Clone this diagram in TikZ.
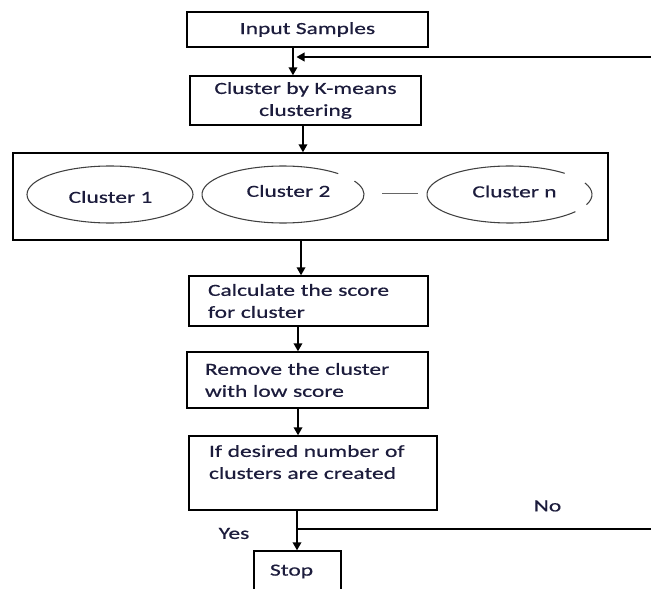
\documentclass[tikz,border=0pt]{standalone}
\usepackage{fontspec}
\setmainfont{Carlito}[FakeStretch=1.38, FakeBold=0.6]
\usetikzlibrary{positioning,arrows.meta}
\definecolor{inkblue}{RGB}{28,28,60}
\tikzset{
	flowbox/.style = {draw, line width=1.1pt, inner sep=0pt, text=inkblue,
	 font=\fontsize{12.75}{16.5}\selectfont},
	leftbox/.style = {flowbox, align=left, inner ysep=2pt},
	lbl/.style = {text=inkblue, font=\fontsize{12.75}{16.5}\selectfont},
	arr/.style = {-{Triangle[length=6pt,width=6.5pt]}, line width=1.1pt},
	ring/.style = {line width=0.8pt, draw=black!75}}

\begin{document}
\begin{tikzpicture}[x=0.75pt, y=0.75pt]
\clip (0,0) rectangle (651,-589);

% NODES
% top of the loop
\node (input) [flowbox, minimum width=180.75pt, minimum height=26.25pt] at (307.5,-29.5) {Input Samples};
\node (kmeans) [flowbox, align=center, minimum width=173.25pt, minimum height=36.75pt] at (305.5,-100.5) {Cluster by K-means\\clustering};
% clusters
\node (big) [flowbox, minimum width=446.25pt, minimum height=65.25pt] at (310.5,-196.5) {};
\node (c1) [lbl] at (110.5,-197) {Cluster 1};
\node (c2) [lbl] at (288.5,-191) {Cluster 2};
\node (cn) [lbl] at (514.5,-191.5) {Cluster n};
\draw [ring] ([shift={(-0.5,2.5)}]c1.center) ellipse [x radius=83, y radius=28.5];
\draw [ring] ([shift={(-5.5,-3.5)}]c2.center) ++(47:81 and 28.5) arc [start angle=47, end angle=388, x radius=81, y radius=28.5];
\draw [ring] ([shift={(-5,-3)}]cn.center) ++(48:82.5 and 28.5) arc [start angle=48, end angle=323, x radius=82.5, y radius=28.5];
\draw [ring] ([shift={(-5,-3)}]cn.center) ++(-21:82.5 and 28.5) arc [start angle=-21, end angle=24, x radius=82.5, y radius=28.5];
\draw [ring, draw=black!60, line width=0.6pt] (382,-193.5) -- (418,-193.5);
% scoring
\node (calc) [leftbox, inner xsep=14.25pt, text width=150.75pt, minimum height=37.5pt] at (308.5,-301) {Calculate the score\\for cluster};
\node (remove) [leftbox, inner xsep=13.5pt, text width=153.75pt, minimum height=42pt] at (307.5,-380) {Remove the cluster\\with low score};
\node (test) [leftbox, inner xsep=15pt, text width=156pt, minimum height=55.5pt] at (313,-473) {If desired number of\\clusters are created\\\mbox{}};
\node (stop) [leftbox, inner xsep=12pt, text width=41.25pt, minimum height=30.75pt] at (297.5,-571.5) {Stop};
\node (yes) [lbl] at (234,-533.5) {Yes};
\node (no) [lbl] at (547.5,-506) {No};
\coordinate (fbin) at (651,-57);
\coordinate (noend) at (651,-529);

%CONNECTIONS
\draw [arr] ([xshift=-10.9pt]input.south) -- ([xshift=-10.9pt]input.south |- kmeans.north);
\draw [arr] (fbin) -- ([xshift=-8.25pt]input.south |- fbin);
\draw [arr] ([xshift=-1.9pt]kmeans.south) -- ([xshift=-1.9pt]kmeans.south |- big.north);
\draw [arr] ([xshift=-7.1pt]big.south) -- ([xshift=-7.1pt]big.south |- calc.north);
\draw [arr] ([xshift=-7.9pt]calc.south) -- ([xshift=-7.9pt]calc.south |- remove.north);
\draw [arr] ([xshift=-7.1pt]remove.south) -- ([xshift=-7.1pt]remove.south |- test.north);
\draw [arr] ([xshift=-12pt]test.south) -- ([xshift=-12pt]test.south |- stop.north);
\draw [line width=0.9pt] ([xshift=-12pt]test.south |- noend) -- (noend);

\end{tikzpicture}
\end{document}
